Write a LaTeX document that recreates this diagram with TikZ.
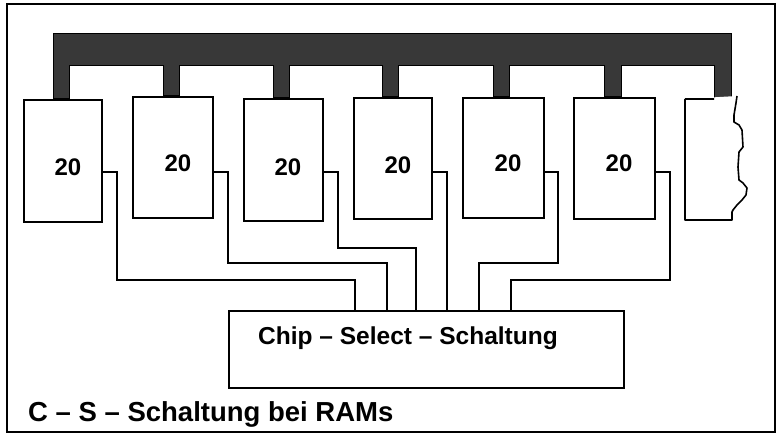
\documentclass[tikz,border=0pt]{standalone}
\usepackage{fontspec}
\setmainfont{Liberation Sans}
\begin{document}
\begin{tikzpicture}[x=1pt,y=-1pt,
  chip/.style={draw=black, fill=white, line width=1.6pt, inner sep=0pt, anchor=north west},
  num/.style={font=\bfseries\fontsize{24}{24}\selectfont, inner sep=0pt},
  wire/.style={draw=black, line width=1.6pt, line join=miter},
  busfill/.style={fill=black!78, draw=black, line width=1pt, line join=miter}]
\useasboundingbox (0,0) rectangle (777,433);
% frame
\draw[line width=2pt] (7,4) rectangle (775,432);
% bus
\path[busfill] (53,99) -- (53,34) -- (731,34) -- (731,99) -- (714,99) -- (714,66)
  -- (621,66) -- (621,97) -- (604,97) -- (604,66)
  -- (509,66) -- (509,97) -- (493,97) -- (493,66)
  -- (398,66) -- (398,97) -- (382,97) -- (382,66)
  -- (289,66) -- (289,98) -- (273,98) -- (273,66)
  -- (179,66) -- (179,96) -- (163,96) -- (163,66)
  -- (69,66) -- (69,99) -- cycle;
% chips
\node[chip, minimum width=78pt, minimum height=122pt] (c1) at (23,99) {};
\node[chip, minimum width=80pt, minimum height=121pt] (c2) at (132,96) {};
\node[chip, minimum width=79pt, minimum height=122pt] (c3) at (243,98) {};
\node[chip, minimum width=78pt, minimum height=121pt] (c4) at (353,97) {};
\node[chip, minimum width=81pt, minimum height=120pt] (c5) at (462,97) {};
\node[chip, minimum width=81pt, minimum height=121pt] (c6) at (573,97) {};
% partial chip with torn edge
\draw[line width=1.6pt, fill=white, line join=round] (685,99) -- (714,99)
  (737,96) -- (736,103) -- (734,115) -- (734,122) -- (739,125) -- (742,130)
  -- (743,147) -- (739,152) -- (738,167) -- (739,180) -- (743,183) -- (747,188)
  -- (746,195) -- (742,200) -- (737,205) -- (733,210) -- (732,212) -- (732,220)
  -- (685,220) -- (685,99);
% labels
\node[num] (l1) at (68,167) {20};
\node[num] (l2) at (178,163) {20};
\node[num] (l3) at (288,167) {20};
\node[num] (l4) at (398,165) {20};
\node[num] (l5) at (508,163) {20};
\node[num] (l6) at (619,163) {20};
% chip select box
\node[draw=black, line width=1.6pt, minimum width=395pt, minimum height=77pt, inner sep=0pt, anchor=north west] (sel) at (228,310) {};
\node[font=\bfseries\fontsize{24.5}{24.5}\selectfont, inner sep=0pt] (seltext) at (408,338) {Chip -- Select -- Schaltung};
% wires
\draw[wire] (c1.east |- 0,172) -- (117,172) -- (117,280) -- (355,280) -- (355,0 |- sel.north);
\draw[wire] (c2.east |- 0,172) -- (228,172) -- (228,263) -- (387,263) -- (387,0 |- sel.north);
\draw[wire] (c3.east |- 0,172) -- (338,172) -- (338,248) -- (416,248) -- (416,0 |- sel.north);
\draw[wire] (c4.east |- 0,172) -- (447,172) -- (447,0 |- sel.north);
\draw[wire] (c5.east |- 0,172) -- (558,172) -- (558,263) -- (479,263) -- (479,0 |- sel.north);
\draw[wire] (c6.east |- 0,172) -- (670,172) -- (670,280) -- (511,280) -- (511,0 |- sel.north);
% caption
\node[font=\bfseries\fontsize{27.5}{27.5}\selectfont, inner sep=0pt, anchor=base west] (cap) at (28,421) {C -- S -- Schaltung bei RAMs};
\end{tikzpicture}
\end{document}
